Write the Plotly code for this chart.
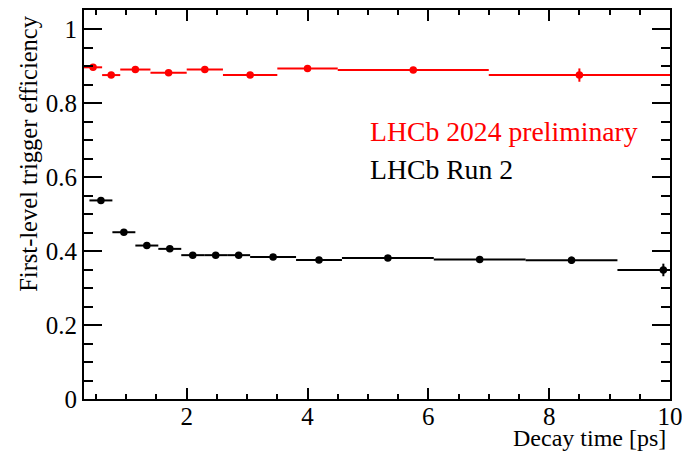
import plotly.graph_objects as go

# LHCb 2024 preliminary: bin centres, half-widths, efficiencies, errors
t_2024 = [0.45, 0.75, 1.15, 1.70, 2.30, 3.05, 4.00, 5.75, 8.50]
dt_2024 = [0.15, 0.15, 0.25, 0.30, 0.30, 0.45, 0.50, 1.25, 1.50]
eff_2024 = [0.897, 0.876, 0.891, 0.882, 0.891, 0.876, 0.894, 0.890, 0.876]
err_2024 = [0.004, 0.004, 0.004, 0.004, 0.004, 0.004, 0.005, 0.005, 0.018]

# LHCb Run 2
t_run2 = [0.58, 0.96, 1.34, 1.72, 2.10, 2.48, 2.86, 3.43, 4.19, 5.33, 6.85, 8.37, 9.89]
dt_run2 = [0.19, 0.19, 0.19, 0.19, 0.19, 0.19, 0.19, 0.38, 0.38, 0.76, 0.76, 0.76, 0.76]
eff_run2 = [0.537, 0.451, 0.415, 0.406, 0.389, 0.389, 0.389, 0.384, 0.376, 0.381, 0.377, 0.375, 0.349]
err_run2 = [0.004, 0.004, 0.004, 0.004, 0.004, 0.004, 0.004, 0.004, 0.004, 0.005, 0.006, 0.010, 0.017]

FONT = "Liberation Serif"
RED = "#ff0000"
BLACK = "#000000"


def series(x, dx, y, dy, color):
    return go.Scatter(
        x=x, y=y, mode="markers",
        marker=dict(color=color, size=7.5, symbol="circle"),
        error_x=dict(type="data", array=dx, symmetric=True, color=color,
                     thickness=2, width=0),
        error_y=dict(type="data", array=dy, symmetric=True, color=color,
                     thickness=2, width=0),
        showlegend=False, cliponaxis=True,
    )


fig = go.Figure()
fig.add_trace(series(t_run2, dt_run2, eff_run2, err_run2, BLACK))
fig.add_trace(series(t_2024, dt_2024, eff_2024, err_2024, RED))

fig.update_layout(
    width=682, height=451,
    margin=dict(l=84, r=12, t=10, b=52, autoexpand=False),
    paper_bgcolor="white", plot_bgcolor="white",
    font=dict(family=FONT, color="black", size=25),
    xaxis=dict(
        range=[0.3, 10], tick0=0, dtick=2, automargin=False,
        showgrid=False, zeroline=False,
        showline=True, linecolor="black", linewidth=2, mirror="ticks",
        ticks="inside", ticklen=11, tickwidth=2, tickcolor="black",
        ticklabelstandoff=-6, ticklabeloverflow="allow",
        minor=dict(dtick=0.5, tick0=0, ticks="inside", ticklen=5,
                   tickwidth=2, tickcolor="black", showgrid=False),
        tickfont=dict(family=FONT, size=25),
    ),
    yaxis=dict(
        range=[0, 1.052], tick0=0, dtick=0.2, automargin=False,
        showgrid=False, zeroline=False,
        showline=True, linecolor="black", linewidth=2, mirror="ticks",
        ticks="inside", ticklen=18, tickwidth=2, tickcolor="black",
        ticklabeloverflow="allow",
        minor=dict(dtick=0.05, tick0=0, ticks="inside", ticklen=9,
                   tickwidth=2, tickcolor="black", showgrid=False),
        tickfont=dict(family=FONT, size=25),
    ),
    annotations=[
        dict(text="First-level trigger efficiency", textangle=-90,
             xref="paper", yref="paper", x=-0.094, y=0.99,
             xanchor="center", yanchor="top", showarrow=False,
             font=dict(family=FONT, size=24.5, color="black")),
        dict(text="Decay time [ps]",
             xref="paper", yref="paper", x=0.9966, y=-0.099,
             xanchor="right", yanchor="middle", showarrow=False,
             font=dict(family=FONT, size=24, color="black")),
        dict(text="LHCb 2024 preliminary",
             xref="paper", yref="paper", x=0.4846, y=0.687,
             xanchor="left", yanchor="middle", showarrow=False,
             font=dict(family=FONT, size=27.7, color=RED)),
        dict(text="LHCb Run 2",
             xref="paper", yref="paper", x=0.4846, y=0.591,
             xanchor="left", yanchor="middle", showarrow=False,
             font=dict(family=FONT, size=27.7, color=BLACK)),
    ],
)

fig.write_html("out.html")
